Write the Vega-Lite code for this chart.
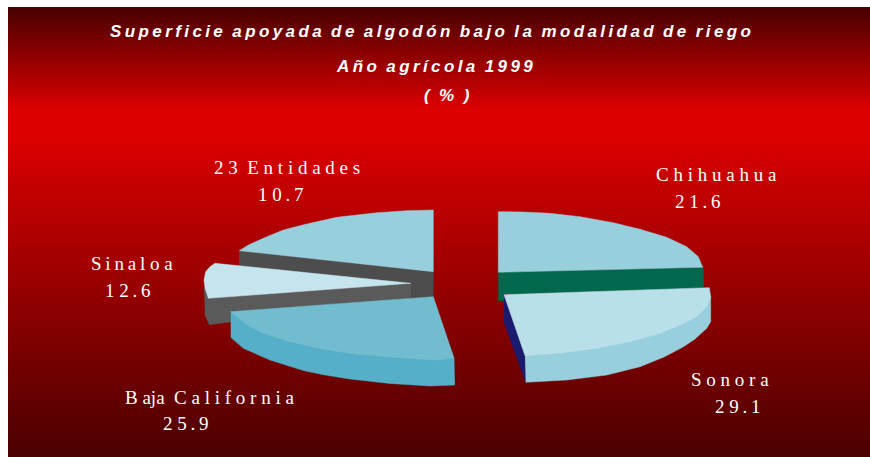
{"$schema":"https://vega.github.io/schema/vega-lite/v6.json","autosize":{"type":"fit","contains":"padding"},"width":870,"height":457,"padding":0,"background":"white","view":{"stroke":null},
"datasets":{
"panel":[{"x":8,"x2":870,"y":7,"y2":457}],
"slices":[
{"part":"a23side","s":1,"x":239.3,"y":250.7},{"part":"a23side","s":2,"x":433.3,"y":271.7},{"part":"a23side","s":3,"x":433.3,"y":297.3},{"part":"a23side","s":4,"x":410,"y":298},{"part":"a23side","s":5,"x":239,"y":265.7},
{"part":"a23top","s":1,"x":433.3,"y":210},{"part":"a23top","s":2,"x":406.7,"y":210.7},{"part":"a23top","s":3,"x":376.7,"y":212.7},{"part":"a23top","s":4,"x":336.7,"y":217.3},{"part":"a23top","s":5,"x":306.7,"y":224},{"part":"a23top","s":6,"x":283.3,"y":230},{"part":"a23top","s":7,"x":263.3,"y":238.3},{"part":"a23top","s":8,"x":248.3,"y":245},{"part":"a23top","s":9,"x":239.3,"y":250.7},{"part":"a23top","s":10,"x":433.3,"y":271.7},{"part":"a23top","s":11,"x":433.3,"y":210},
{"part":"b_sinside","s":1,"x":204,"y":288},{"part":"b_sinside","s":2,"x":208.3,"y":298.3},{"part":"b_sinside","s":3,"x":410.7,"y":283.3},{"part":"b_sinside","s":4,"x":410.7,"y":298},{"part":"b_sinside","s":5,"x":209.3,"y":324.7},{"part":"b_sinside","s":6,"x":205,"y":315},
{"part":"b_sintop","s":1,"x":215,"y":263.3},{"part":"b_sintop","s":2,"x":210,"y":266.7},{"part":"b_sintop","s":3,"x":205.7,"y":271.7},{"part":"b_sintop","s":4,"x":204,"y":280},{"part":"b_sintop","s":5,"x":205,"y":288.3},{"part":"b_sintop","s":6,"x":208.3,"y":298.3},{"part":"b_sintop","s":7,"x":410.7,"y":283.3},{"part":"b_sintop","s":8,"x":215,"y":263.3},
{"part":"c_bcside","s":1,"x":230.7,"y":311.7},{"part":"c_bcside","s":2,"x":454,"y":358},{"part":"c_bcside","s":3,"x":454.7,"y":385},{"part":"c_bcside","s":4,"x":430,"y":386},{"part":"c_bcside","s":5,"x":390,"y":383.5},{"part":"c_bcside","s":6,"x":350,"y":379},{"part":"c_bcside","s":7,"x":325,"y":375},{"part":"c_bcside","s":8,"x":303.3,"y":370.5},{"part":"c_bcside","s":9,"x":270,"y":360},{"part":"c_bcside","s":10,"x":243.3,"y":348.3},{"part":"c_bcside","s":11,"x":230.7,"y":337.3},
{"part":"c_bctop","s":1,"x":433.3,"y":296.7},{"part":"c_bctop","s":2,"x":454,"y":358},{"part":"c_bctop","s":3,"x":436.7,"y":360},{"part":"c_bctop","s":4,"x":406.7,"y":358.3},{"part":"c_bctop","s":5,"x":356.7,"y":354.3},{"part":"c_bctop","s":6,"x":323.3,"y":349.3},{"part":"c_bctop","s":7,"x":290,"y":341.7},{"part":"c_bctop","s":8,"x":263.3,"y":333.3},{"part":"c_bctop","s":9,"x":246.7,"y":325},{"part":"c_bctop","s":10,"x":230.7,"y":311.7},{"part":"c_bctop","s":11,"x":433.3,"y":296.7},
{"part":"d_chiside","s":1,"x":498.3,"y":272.3},{"part":"d_chiside","s":2,"x":703.3,"y":267.3},{"part":"d_chiside","s":3,"x":703.7,"y":288.3},{"part":"d_chiside","s":4,"x":504,"y":294.3},{"part":"d_chiside","s":5,"x":504,"y":300.7},{"part":"d_chiside","s":6,"x":498.3,"y":300.7},
{"part":"d_chitop","s":1,"x":498.3,"y":211.7},{"part":"d_chitop","s":2,"x":523.3,"y":212},{"part":"d_chitop","s":3,"x":550,"y":213.3},{"part":"d_chitop","s":4,"x":580,"y":216.7},{"part":"d_chitop","s":5,"x":613.3,"y":222.7},{"part":"d_chitop","s":6,"x":640,"y":229.3},{"part":"d_chitop","s":7,"x":666.7,"y":237.3},{"part":"d_chitop","s":8,"x":686.7,"y":246.7},{"part":"d_chitop","s":9,"x":698.3,"y":256.7},{"part":"d_chitop","s":10,"x":702.7,"y":267.3},{"part":"d_chitop","s":11,"x":498.3,"y":272.3},{"part":"d_chitop","s":12,"x":498.3,"y":211.7},
{"part":"e_sonnavy","s":1,"x":504,"y":294.7},{"part":"e_sonnavy","s":2,"x":525,"y":355.7},{"part":"e_sonnavy","s":3,"x":525.7,"y":382.3},{"part":"e_sonnavy","s":4,"x":504,"y":321.7},
{"part":"e_sonside","s":1,"x":525,"y":355.7},{"part":"e_sonside","s":2,"x":710.7,"y":296.7},{"part":"e_sonside","s":3,"x":710.7,"y":321.7},{"part":"e_sonside","s":4,"x":706.7,"y":328.3},{"part":"e_sonside","s":5,"x":695,"y":339},{"part":"e_sonside","s":6,"x":683,"y":347},{"part":"e_sonside","s":7,"x":664,"y":357},{"part":"e_sonside","s":8,"x":640,"y":366.7},{"part":"e_sonside","s":9,"x":606.7,"y":375},{"part":"e_sonside","s":10,"x":566.7,"y":380},{"part":"e_sonside","s":11,"x":525.7,"y":382.3},
{"part":"e_sontop","s":1,"x":504,"y":294.7},{"part":"e_sontop","s":2,"x":709.3,"y":287.7},{"part":"e_sontop","s":3,"x":710.7,"y":296.7},{"part":"e_sontop","s":4,"x":706.7,"y":306.7},{"part":"e_sontop","s":5,"x":696.7,"y":316.7},{"part":"e_sontop","s":6,"x":680,"y":325},{"part":"e_sontop","s":7,"x":660,"y":333.3},{"part":"e_sontop","s":8,"x":630,"y":341.7},{"part":"e_sontop","s":9,"x":596.7,"y":348.3},{"part":"e_sontop","s":10,"x":563.3,"y":352.7},{"part":"e_sontop","s":11,"x":525,"y":355.7},{"part":"e_sontop","s":12,"x":504,"y":294.7}
],
"titles":[
{"text":"S\u2009u\u2009p\u2009e\u2009r\u2009f\u2009i\u2009c\u2009i\u2009e \u00a0a\u2009p\u2009o\u2009y\u2009a\u2009d\u2009a \u00a0d\u2009e \u00a0a\u2009l\u2009g\u2009o\u2009d\u2009ó\u2009n \u00a0b\u2009a\u2009j\u2009o \u00a0l\u2009a \u00a0m\u2009o\u2009d\u2009a\u2009l\u2009i\u2009d\u2009a\u2009d \u00a0d\u2009e \u00a0r\u2009i\u2009e\u2009g\u2009o","x":110,"y":37},
{"text":"A\u2009ñ\u2009o \u00a0a\u2009g\u2009r\u2009í\u2009c\u2009o\u2009l\u2009a \u00a01\u20099\u20099\u20099","x":337,"y":72},
{"text":"( \u00a0% \u00a0)","x":424,"y":101}],
"labels":[
{"text":"2 3 \u00a0E n t i d a d e s","x":214,"y":174},{"text":"1 0\u2009.\u20097","x":258,"y":201},
{"text":"C h i h u a h u a","x":656,"y":181},{"text":"2 1\u2009.\u20096","x":675,"y":208},
{"text":"S\u2009i\u2009n\u2009a\u2009l o a","x":91,"y":270},{"text":"1 2\u2009.\u20096","x":105,"y":297},
{"text":"S o n o r a","x":691,"y":386},{"text":"2 9\u2009.\u20091","x":715,"y":413},
{"text":"B aja \u00a0C a l i f o r n i a","x":125,"y":404},{"text":"2 5\u2009.\u20099","x":163,"y":430}]
},
"layer":[
{"data":{"name":"panel"},"mark":{"type":"rect","fill":{"gradient":"linear","x1":0,"y1":0,"x2":0,"y2":1,"stops":[{"offset":0,"color":"#480000"},{"offset":0.23,"color":"#dd0000"},{"offset":0.28,"color":"#dd0000"},{"offset":1,"color":"#4a0000"}]}},
"encoding":{"x":{"field":"x","type":"quantitative","scale":{"domain":[0,870]},"axis":null},"x2":{"field":"x2"},"y":{"field":"y","type":"quantitative","scale":{"domain":[457,0]},"axis":null},"y2":{"field":"y2"}}},
{"data":{"name":"slices"},"mark":{"type":"line","strokeWidth":0.5,"interpolate":"linear"},
"encoding":{"x":{"field":"x","type":"quantitative","scale":{"domain":[0,870]},"axis":null},"y":{"field":"y","type":"quantitative","scale":{"domain":[457,0]},"axis":null},"order":{"field":"s","type":"quantitative"},
"color":{"field":"part","type":"nominal","legend":null,"scale":{"domain":["a23side","a23top","b_sinside","b_sintop","c_bcside","c_bctop","d_chiside","d_chitop","e_sonnavy","e_sonside","e_sontop"],"range":["#4d4d4d","#98cfdd","#5a5a5a","#c5e4ee","#55afc8","#72bccf","#00684c","#98cfdd","#1a1a6e","#98cfdd","#b9dfe9"]}},
"fill":{"field":"part","type":"nominal","legend":null,"scale":{"domain":["a23side","a23top","b_sinside","b_sintop","c_bcside","c_bctop","d_chiside","d_chitop","e_sonnavy","e_sonside","e_sontop"],"range":["#4d4d4d","#98cfdd","#5a5a5a","#c5e4ee","#55afc8","#72bccf","#00684c","#98cfdd","#1a1a6e","#98cfdd","#b9dfe9"]}}}},
{"data":{"name":"titles"},"mark":{"type":"text","font":"Liberation Sans","fontWeight":"bold","fontStyle":"italic","fontSize":17,"align":"left","baseline":"alphabetic","color":"white"},
"encoding":{"x":{"field":"x","type":"quantitative","scale":{"domain":[0,870]},"axis":null},"y":{"field":"y","type":"quantitative","scale":{"domain":[457,0]},"axis":null},"text":{"field":"text"}}},
{"data":{"name":"labels"},"mark":{"type":"text","font":"Liberation Serif","fontSize":19,"align":"left","baseline":"alphabetic","color":"white"},
"encoding":{"x":{"field":"x","type":"quantitative","scale":{"domain":[0,870]},"axis":null},"y":{"field":"y","type":"quantitative","scale":{"domain":[457,0]},"axis":null},"text":{"field":"text"}}}
]}
